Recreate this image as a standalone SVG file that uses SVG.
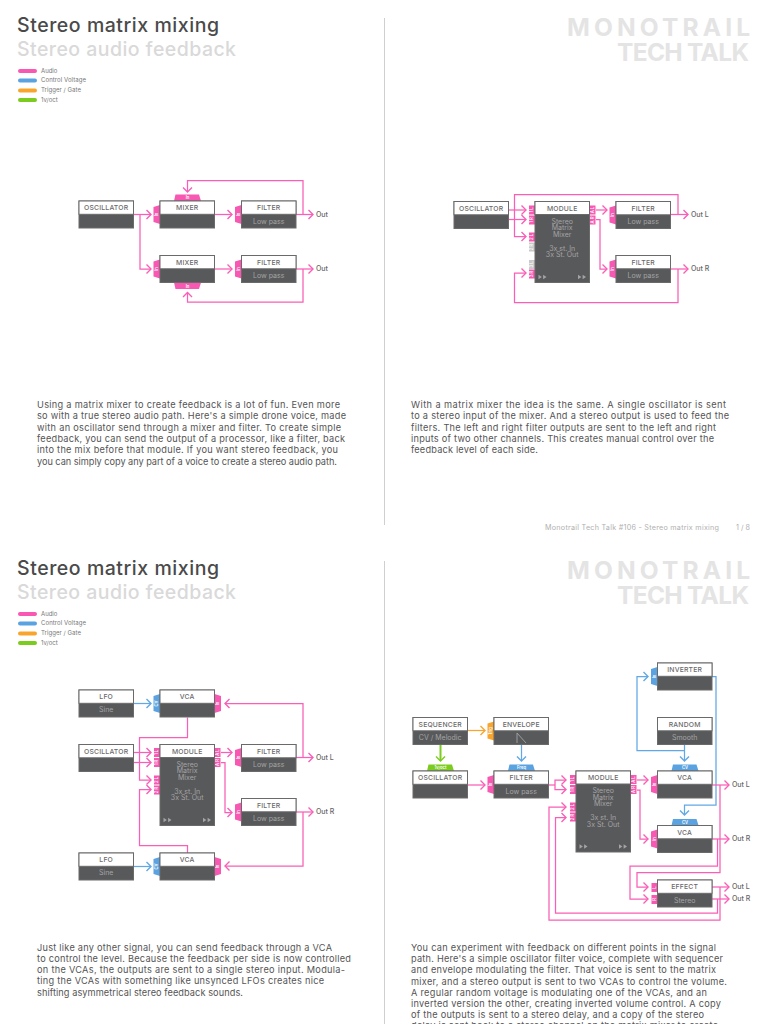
<svg xmlns="http://www.w3.org/2000/svg" xmlns:xlink="http://www.w3.org/1999/xlink" width="768" height="1024" viewBox="0 0 768 1024">
<style>
text{font-family:Inter,"Open Sans","Liberation Sans",sans-serif}
.title{font-size:19.5px;font-weight:500;fill:#4a4a4a}
.sub{font-size:19.5px;font-weight:500;fill:#d9d9d9}
.mono{font-size:24.5px;font-weight:700;fill:#e4e4e4}
.leg{font-size:6px;fill:#777}
.body{font-size:9.2px;fill:#555}
.foot{font-size:7.2px;fill:#b0b0b0}
.out{font-size:7px;font-weight:500;fill:#666}
.t{font-size:6.8px;font-weight:500;fill:#6a6a6a;text-anchor:middle;letter-spacing:.2px}
.s{font-size:7px;fill:#a4a4a4;text-anchor:middle}
.p{font-size:4.2px;font-weight:600;fill:#fff;text-anchor:middle}
.bd{fill:#58595b;stroke:#6a6a6a;stroke-width:1}
.hd{fill:#fff;stroke:#6a6a6a;stroke-width:1}
.pk{fill:#f857b2}.bl{fill:#5aa2e0}.or{fill:#f9a52c}.gr{fill:#7ccb1f}.gy{fill:#c9c9c9}
.c{fill:none;stroke-width:1.25}
.cp{stroke:#f95fb6;marker-end:url(#mp)}
.cpn{stroke:#f95fb6}
.cb{stroke:#62a8e6;marker-end:url(#mb)}
.cbn{stroke:#62a8e6}
.co{stroke:#f9a52c;marker-end:url(#mo)}
.cg{stroke:#7ccb1f;stroke-width:2;marker-end:url(#mg)}
.ic{fill:none;stroke:#a4a4a4;stroke-width:.9}
</style>
<defs>
<marker id="mp" markerUnits="userSpaceOnUse" markerWidth="12" markerHeight="12" refX="6" refY="6" orient="auto" overflow="visible"><path d="M1.5 1.5L6 6L1.5 10.5" fill="none" stroke="#f95fb6" stroke-width="1.4"/></marker>
<marker id="mb" markerUnits="userSpaceOnUse" markerWidth="12" markerHeight="12" refX="6" refY="6" orient="auto" overflow="visible"><path d="M1.5 1.5L6 6L1.5 10.5" fill="none" stroke="#62a8e6" stroke-width="1.4"/></marker>
<marker id="mo" markerUnits="userSpaceOnUse" markerWidth="12" markerHeight="12" refX="6" refY="6" orient="auto" overflow="visible"><path d="M1.5 1.5L6 6L1.5 10.5" fill="none" stroke="#f9a52c" stroke-width="1.4"/></marker>
<marker id="mg" markerUnits="userSpaceOnUse" markerWidth="12" markerHeight="12" refX="6" refY="6" orient="auto" overflow="visible"><path d="M1.5 1.5L6 6L1.5 10.5" fill="none" stroke="#7ccb1f" stroke-width="1.4"/></marker>
<polygon id="tl" points="0,0 -6.5,2 -6.5,17 0,19"/>
<polygon id="tr" points="0,0 6.5,2 6.5,17 0,19"/>
<polygon id="tt" points="0,0 1.5,-6.5 25,-6.5 27,0"/>
<polygon id="tb" points="0,0 1.5,6.5 25,6.5 27,0"/>
<rect id="sl" x="-6" width="6" height="9"/>
<rect id="sr" width="6" height="9"/>
<g id="ff"><polygon points="0,-2.2 3.4,0 0,2.2"/><polygon points="4.6,-2.2 8,0 4.6,2.2"/></g>
<g id="mod"><rect class="bd" width="54.5" height="81"/><rect class="hd" width="54.5" height="13"/><text class="s" x="27.2" y="22">Stereo</text><text class="s" x="27.2" y="28.7">Matrix</text><text class="s" x="27.2" y="35.2">Mixer</text><text class="s" x="27.2" y="49">3x st. In</text><text class="s" x="27.2" y="55.5">3x St. Out</text><use href="#ff" x="3.5" y="75.5" fill="#a4a4a4"/><use href="#ff" x="43" y="75.5" fill="#a4a4a4"/></g>
<g id="nd"><rect class="bd" width="54.5" height="27"/><rect class="hd" width="54.5" height="13.3"/></g>
</defs>

<g id="page-text">
<line x1="384.5" y1="18" x2="384.5" y2="525" stroke="#cfcfcf" stroke-width="1"/>
<line x1="384.5" y1="561" x2="384.5" y2="1024" stroke="#cfcfcf" stroke-width="1"/>
<text class="title" x="17" y="32" textLength="202">Stereo matrix mixing</text>
<text class="sub" x="17" y="56" textLength="219">Stereo audio feedback</text>
<text class="title" x="17" y="575" textLength="202">Stereo matrix mixing</text>
<text class="sub" x="17" y="599" textLength="219">Stereo audio feedback</text>
<text class="mono" x="567" y="36" textLength="183">MONOTRAIL</text>
<text class="mono" x="617" y="60.5" textLength="132">TECH TALK</text>
<text class="mono" x="567" y="579" textLength="183">MONOTRAIL</text>
<text class="mono" x="617" y="603.5" textLength="132">TECH TALK</text>
<text class="foot" x="545" y="530" textLength="174">Monotrail Tech Talk #106 - Stereo matrix mixing</text>
<text class="foot" x="736" y="530" textLength="14">1 / 8</text>
</g>

<g id="legend-1">
<rect class="pk" x="18" y="69" width="19" height="4" rx="2"/><text class="leg" x="41" y="72.5">Audio</text>
<rect class="bl" x="18" y="78.5" width="19" height="4" rx="2"/><text class="leg" x="41" y="82" textLength="45">Control Voltage</text>
<rect class="or" x="18" y="88.5" width="19" height="4" rx="2"/><text class="leg" x="41" y="92" textLength="40">Trigger / Gate</text>
<rect class="gr" x="18" y="98" width="19" height="4" rx="2"/><text class="leg" x="41" y="102">1v/oct</text>
</g>
<g id="legend-2">
<rect class="pk" x="18" y="612" width="19" height="4" rx="2"/><text class="leg" x="41" y="615.5">Audio</text>
<rect class="bl" x="18" y="621.5" width="19" height="4" rx="2"/><text class="leg" x="41" y="625" textLength="45">Control Voltage</text>
<rect class="or" x="18" y="631.5" width="19" height="4" rx="2"/><text class="leg" x="41" y="635" textLength="40">Trigger / Gate</text>
<rect class="gr" x="18" y="641" width="19" height="4" rx="2"/><text class="leg" x="41" y="645">1v/oct</text>
</g>

<g id="body-text">
<text class="body" x="37" y="408" textLength="303">Using a matrix mixer to create feedback is a lot of fun. Even more</text>
<text class="body" x="37" y="419.3" textLength="309">so with a true stereo audio path. Here's a simple drone voice, made</text>
<text class="body" x="37" y="430.6" textLength="304">with an oscillator send through a mixer and filter. To create simple</text>
<text class="body" x="37" y="441.9" textLength="308">feedback, you can send the output of a processor, like a filter, back</text>
<text class="body" x="37" y="453.2" textLength="301">into the mix before that module. If you want stereo feedback, you</text>
<text class="body" x="37" y="464.5" textLength="300">you can simply copy any part of a voice to create a stereo audio path.</text>
<text class="body" x="411" y="408" textLength="315">With a matrix mixer the idea is the same. A single oscillator is sent</text>
<text class="body" x="411" y="419.3" textLength="318">to a stereo input of the mixer. And a stereo output is used to feed the</text>
<text class="body" x="411" y="430.6" textLength="305">filters. The left and right filter outputs are sent to the left and right</text>
<text class="body" x="411" y="441.9" textLength="303">inputs of two other channels. This creates manual control over the</text>
<text class="body" x="411" y="453.2" textLength="127">feedback level of each side.</text>
<text class="body" x="37" y="950.5" textLength="295">Just like any other signal, you can send feedback through a VCA</text>
<text class="body" x="37" y="961.8" textLength="314">to control the level. Because the feedback per side is now controlled</text>
<text class="body" x="37" y="973.1" textLength="308">on the VCAs, the outputs are sent to a single stereo input. Modula-</text>
<text class="body" x="37" y="984.4" textLength="287">ting the VCAs with something like unsynced LFOs creates nice</text>
<text class="body" x="37" y="995.7" textLength="206">shifting asymmetrical stereo feedback sounds.</text>
<text class="body" x="411" y="951" textLength="305">You can experiment with feedback on different points in the signal</text>
<text class="body" x="411" y="962.2" textLength="312">path. Here's a simple oscillator filter voice, complete with sequencer</text>
<text class="body" x="411" y="973.4" textLength="305">and envelope modulating the filter. That voice is sent to the matrix</text>
<text class="body" x="411" y="984.6" textLength="316">mixer, and a stereo output is sent to two VCAs to control the volume.</text>
<text class="body" x="411" y="995.8" textLength="296">A regular random voltage is modulating one of the VCAs, and an</text>
<text class="body" x="411" y="1007" textLength="310">inverted version the other, creating inverted volume control. A copy</text>
<text class="body" x="411" y="1018.2" textLength="293">of the outputs is sent to a stereo delay, and a copy of the stereo</text>
<text class="body" x="411" y="1029.4" textLength="307">delay is sent back to a stereo channel on the matrix mixer to create</text>
</g>

<g id="connectors" class="c">
<path class="c cp" d="M133 214.5H151"/>
<path class="c cp" d="M140 214.5V269H151"/>
<path class="c cp" d="M215 214.5H232"/>
<path class="c cp" d="M296 214.5H313"/>
<path class="c cp" d="M303 214.5V180.5H187.5V192"/>
<path class="c cp" d="M215 269H232"/>
<path class="c cp" d="M296 269H313"/>
<path class="c cp" d="M303 269V302H187.5V292.5"/>
<path class="c cp" d="M509 210H526"/>
<path class="c cp" d="M509 219.5H526"/>
<path class="c cp" d="M678 214.5V194.5H514.5V236.5H526"/>
<path class="c cp" d="M678 269V302.5H514.5V273H526"/>
<path class="c cp" d="M671 214.5H688"/>
<path class="c cp" d="M671 269H688"/>
<path class="c cp" d="M596 210H607"/>
<path class="c cp" d="M596 219.5H600V269H607"/>
<path class="c cb" d="M133 703.5H151"/>
<path class="c cb" d="M133 866.5H151"/>
<path class="c cp" d="M133 752.5H151"/>
<path class="c cp" d="M133 762.5H151"/>
<path class="c cp" d="M187.5 717.5V737.5H139.5V780H151"/>
<path class="c cp" d="M187.5 853V845.5H139.5V789.5H151"/>
<path class="c cp" d="M221 752.5H232"/>
<path class="c cp" d="M221 762.5H225V812.5H232"/>
<path class="c cp" d="M296 757.5H313"/>
<path class="c cp" d="M296 812H313"/>
<path class="c cp" d="M303 757.5V703.5H225"/>
<path class="c cp" d="M303 812V866H225"/>
<path class="c co" d="M468 730.5H485"/>
<path class="c cg" d="M440.5 745V761"/>
<path class="c cb" d="M521.5 745V761"/>
<path class="c cp" d="M468 785H485"/>
<path class="c cpn" d="M549 785H555"/>
<path class="c cp" d="M555 785V780H566"/>
<path class="c cp" d="M555 785V789.5H566"/>
<path class="c cb" d="M684.5 745V761"/>
<path class="c cb" d="M684.5 750.5H637V676.5H648"/>
<path class="c cb" d="M712 676.5H716V805H684.5V815"/>
<path class="c cp" d="M637 780H648"/>
<path class="c cp" d="M637 790H640V839H648"/>
<path class="c cp" d="M712 785H729"/>
<path class="c cp" d="M712 839H729"/>
<path class="c cp" d="M720 785V872.5H637V887H648"/>
<path class="c cp" d="M717.5 839V866H630V899H648"/>
<path class="c cp" d="M712 887H729"/>
<path class="c cp" d="M712 899H729"/>
<path class="c cp" d="M720 887V920H549V807H566"/>
<path class="c cp" d="M717.5 899V913H555.5V817.5H566"/>
</g>

<g id="d1-oscillator" transform="translate(79,201)"><use href="#nd"/><text class="t" x="27.2" y="9">OSCILLATOR</text></g>
<g id="d1-mixer1" transform="translate(160,201)"><g class="pk"><use href="#tl" y="4"/><use href="#tt" x="14"/></g><text class="p" transform="translate(-1.8,13.5) rotate(-90)">In</text><text class="p" x="27.5" y="-2">In</text><use href="#nd"/><text class="t" x="27.2" y="9">MIXER</text></g>
<g id="d1-filter1" transform="translate(241.5,201)"><g class="pk"><use href="#tl" y="4"/></g><text class="p" transform="translate(-1.8,13.5) rotate(-90)">In</text><use href="#nd"/><text class="t" x="27.2" y="9">FILTER</text><text class="s" x="27.2" y="22.5">Low pass</text></g>
<g id="d1-mixer2" transform="translate(160,255.5)"><g class="pk"><use href="#tl" y="4"/><use href="#tb" x="14" y="27"/></g><text class="p" transform="translate(-1.8,13.5) rotate(-90)">In</text><text class="p" x="27.5" y="32">In</text><use href="#nd"/><text class="t" x="27.2" y="9">MIXER</text></g>
<g id="d1-filter2" transform="translate(241.5,255.5)"><g class="pk"><use href="#tl" y="4"/></g><text class="p" transform="translate(-1.8,13.5) rotate(-90)">In</text><use href="#nd"/><text class="t" x="27.2" y="9">FILTER</text><text class="s" x="27.2" y="22.5">Low pass</text></g>
<g id="d1-outs"><text class="out" x="316" y="216.5">Out</text><text class="out" x="316" y="271">Out</text></g>

<g id="d2-oscillator" transform="translate(454,201.5)"><use href="#nd"/><text class="t" x="27.2" y="9">OSCILLATOR</text></g>
<g id="d2-module" transform="translate(535,201.5)"><g class="pk"><use href="#sl" y="4"/><use href="#sl" y="14"/><use href="#sl" y="31"/><use href="#sl" y="68"/></g><g class="gy"><use href="#sl" y="41"/><use href="#sl" y="58.5"/></g><g class="pk"><use href="#sr" x="54.5" y="4"/><use href="#sr" x="54.5" y="14"/></g><text class="p" transform="translate(-1.8,8.5) rotate(-90)">1 L</text><text class="p" transform="translate(-1.8,18.5) rotate(-90)">1 R</text><text class="p" transform="translate(-1.8,35.5) rotate(-90)">2 L</text><text class="p" transform="translate(-1.8,45.5) rotate(-90)">2 R</text><text class="p" transform="translate(-1.8,63) rotate(-90)">3 L</text><text class="p" transform="translate(-1.8,72.5) rotate(-90)">3 R</text><text class="p" transform="translate(59,8.5) rotate(-90)">A L</text><text class="p" transform="translate(59,18.5) rotate(-90)">A R</text><use href="#mod"/><text class="t" x="27.2" y="9">MODULE</text></g>
<g id="d2-filter1" transform="translate(616,201.5)"><g class="pk"><use href="#tl" y="4"/></g><text class="p" transform="translate(-1.8,13.5) rotate(-90)">In</text><use href="#nd"/><text class="t" x="27.2" y="9">FILTER</text><text class="s" x="27.2" y="22.5">Low pass</text></g>
<g id="d2-filter2" transform="translate(616,255.5)"><g class="pk"><use href="#tl" y="4"/></g><text class="p" transform="translate(-1.8,13.5) rotate(-90)">In</text><use href="#nd"/><text class="t" x="27.2" y="9">FILTER</text><text class="s" x="27.2" y="22.5">Low pass</text></g>
<g id="d2-outs"><text class="out" x="691" y="216.5">Out L</text><text class="out" x="691" y="271">Out R</text></g>

<g id="d3-lfo1" transform="translate(79,690)"><use href="#nd"/><text class="t" x="27.2" y="9">LFO</text><text class="s" x="27.2" y="22">Sine</text></g>
<g id="d3-vca1" transform="translate(160,690)"><g class="bl"><use href="#tl" y="4"/></g><g class="pk"><use href="#tr" x="54.5" y="4"/></g><text class="p" transform="translate(-1.8,13.5) rotate(-90)">CV</text><text class="p" transform="translate(59,13.5) rotate(-90)">In</text><use href="#nd"/><text class="t" x="27.2" y="9">VCA</text></g>
<g id="d3-oscillator" transform="translate(79,744.5)"><use href="#nd"/><text class="t" x="27.2" y="9">OSCILLATOR</text></g>
<g id="d3-module" transform="translate(160,744.5)"><g class="pk"><use href="#sl" y="3.5"/><use href="#sl" y="13.5"/><use href="#sl" y="31"/><use href="#sl" y="41"/><use href="#sr" x="54.5" y="3.5"/><use href="#sr" x="54.5" y="13.5"/></g><text class="p" transform="translate(-1.8,8) rotate(-90)">1 L</text><text class="p" transform="translate(-1.8,18) rotate(-90)">1 R</text><text class="p" transform="translate(-1.8,35.5) rotate(-90)">2 L</text><text class="p" transform="translate(-1.8,45.5) rotate(-90)">2 R</text><text class="p" transform="translate(59,8) rotate(-90)">A L</text><text class="p" transform="translate(59,18) rotate(-90)">A R</text><use href="#mod"/><text class="t" x="27.2" y="9">MODULE</text></g>
<g id="d3-filter1" transform="translate(241.5,744.5)"><g class="pk"><use href="#tl" y="3.5"/></g><text class="p" transform="translate(-1.8,13) rotate(-90)">In</text><use href="#nd"/><text class="t" x="27.2" y="9">FILTER</text><text class="s" x="27.2" y="22.5">Low pass</text></g>
<g id="d3-filter2" transform="translate(241.5,798.5)"><g class="pk"><use href="#tl" y="4"/></g><text class="p" transform="translate(-1.8,13.5) rotate(-90)">In</text><use href="#nd"/><text class="t" x="27.2" y="9">FILTER</text><text class="s" x="27.2" y="22.5">Low pass</text></g>
<g id="d3-lfo2" transform="translate(79,853)"><use href="#nd"/><text class="t" x="27.2" y="9">LFO</text><text class="s" x="27.2" y="22">Sine</text></g>
<g id="d3-vca2" transform="translate(160,853)"><g class="bl"><use href="#tl" y="4"/></g><g class="pk"><use href="#tr" x="54.5" y="4"/></g><text class="p" transform="translate(-1.8,13.5) rotate(-90)">CV</text><text class="p" transform="translate(59,13.5) rotate(-90)">In</text><use href="#nd"/><text class="t" x="27.2" y="9">VCA</text></g>
<g id="d3-outs"><text class="out" x="316" y="759.5">Out L</text><text class="out" x="316" y="814">Out R</text></g>

<g id="d4-sequencer" transform="translate(413,717.5)"><use href="#nd"/><text class="t" x="27.2" y="9">SEQUENCER</text><text class="s" x="27.2" y="22.5">CV / Melodic</text></g>
<g id="d4-envelope" transform="translate(494,717.5)"><g class="or"><use href="#tl" y="4"/></g><text class="p" transform="translate(-1.8,13.5) rotate(-90)">Trig</text><use href="#nd"/><text class="t" x="27.2" y="9">ENVELOPE</text><path class="ic" d="M23 25.5V15.5L32 25.5"/></g>
<g id="d4-oscillator" transform="translate(413,771)"><g class="gr"><use href="#tt" x="14"/></g><text class="p" x="27.5" y="-2">1v/oct</text><use href="#nd"/><text class="t" x="27.2" y="9">OSCILLATOR</text></g>
<g id="d4-filter" transform="translate(494,771)"><g class="pk"><use href="#tl" y="4"/></g><g class="bl"><use href="#tt" x="14"/></g><text class="p" transform="translate(-1.8,13.5) rotate(-90)">In</text><text class="p" x="27.5" y="-2">Freq</text><use href="#nd"/><text class="t" x="27.2" y="9">FILTER</text><text class="s" x="27.2" y="22.5">Low pass</text></g>
<g id="d4-module" transform="translate(576,771)"><g class="pk"><use href="#sl" y="4"/><use href="#sl" y="14"/><use href="#sl" y="31.5"/><use href="#sl" y="41.5"/><use href="#sr" x="54.5" y="4"/><use href="#sr" x="54.5" y="14"/></g><text class="p" transform="translate(-1.8,8.5) rotate(-90)">1 L</text><text class="p" transform="translate(-1.8,18.5) rotate(-90)">1 R</text><text class="p" transform="translate(-1.8,36) rotate(-90)">2 L</text><text class="p" transform="translate(-1.8,46) rotate(-90)">2 R</text><text class="p" transform="translate(59,8.5) rotate(-90)">A L</text><text class="p" transform="translate(59,18.5) rotate(-90)">A R</text><use href="#mod"/><text class="t" x="27.2" y="9">MODULE</text></g>
<g id="d4-inverter" transform="translate(657.5,663)"><g class="bl"><use href="#tl" y="4"/></g><text class="p" transform="translate(-1.8,13.5) rotate(-90)">In</text><use href="#nd"/><text class="t" x="27.2" y="9">INVERTER</text></g>
<g id="d4-random" transform="translate(657.5,717.5)"><use href="#nd"/><text class="t" x="27.2" y="9">RANDOM</text><text class="s" x="27.2" y="22.5">Smooth</text></g>
<g id="d4-vca1" transform="translate(657.5,771)"><g class="pk"><use href="#tl" y="4"/></g><g class="bl"><use href="#tt" x="14"/></g><text class="p" transform="translate(-1.8,13.5) rotate(-90)">In</text><text class="p" x="27.5" y="-2">CV</text><use href="#nd"/><text class="t" x="27.2" y="9">VCA</text></g>
<g id="d4-vca2" transform="translate(657.5,825.5)"><g class="pk"><use href="#tl" y="4"/></g><g class="bl"><use href="#tt" x="14"/></g><text class="p" transform="translate(-1.8,13.5) rotate(-90)">In</text><text class="p" x="27.5" y="-2">CV</text><use href="#nd"/><text class="t" x="27.2" y="9">VCA</text></g>
<g id="d4-effect" transform="translate(657.5,880)"><g class="pk"><use href="#sl" y="3"/><use href="#sl" y="15"/></g><text class="p" transform="translate(-1.8,7.5) rotate(-90)">L</text><text class="p" transform="translate(-1.8,19.5) rotate(-90)">R</text><use href="#nd"/><text class="t" x="27.2" y="9">EFFECT</text><text class="s" x="27.2" y="22.5">Stereo</text></g>
<g id="d4-outs"><text class="out" x="732" y="787">Out L</text><text class="out" x="732" y="841">Out R</text><text class="out" x="732" y="889">Out L</text><text class="out" x="732" y="901">Out R</text></g>
</svg>
